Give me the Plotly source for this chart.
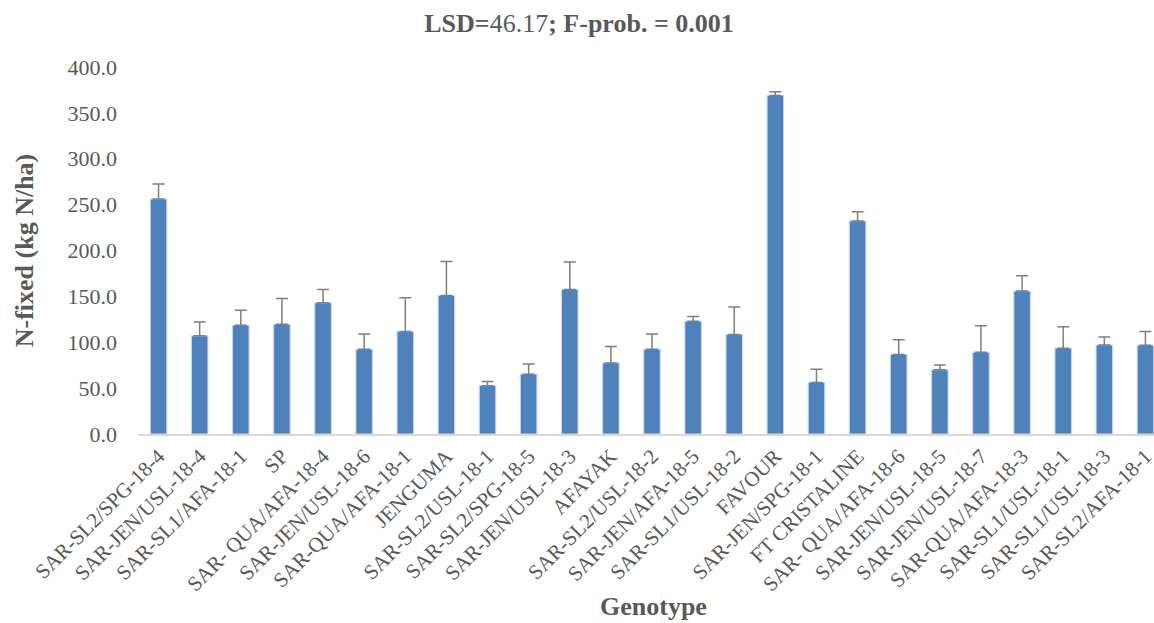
import plotly.graph_objects as go

genotypes = [
    "SAR-SL2/SPG-18-4", "SAR-JEN/USL-18-4", "SAR-SL1/AFA-18-1", "SP",
    "SAR- QUA/AFA-18-4", "SAR-JEN/USL-18-6", "SAR-QUA/AFA-18-1", "JENGUMA",
    "SAR-SL2/USL-18-1", "SAR-SL2/SPG-18-5", "SAR-JEN/USL-18-3", "AFAYAK",
    "SAR-SL2/USL-18-2", "SAR-JEN/AFA-18-5", "SAR-SL1/USL-18-2", "FAVOUR",
    "SAR-JEN/SPG-18-1", "FT CRISTALINE", "SAR- QUA/AFA-18-6", "SAR-JEN/USL-18-5",
    "SAR-JEN/USL-18-7", "SAR-QUA/AFA-18-3", "SAR-SL1/USL-18-1", "SAR-SL1/USL-18-3",
    "SAR-SL2/AFA-18-1",
]
n_fixed = [256.0, 107.0, 118.5, 119.6, 143.0, 92.4, 111.6, 151.0,
           52.7, 65.2, 157.6, 77.5, 92.4, 122.8, 108.4, 369.0,
           56.2, 232.2, 86.6, 69.9, 89.1, 155.8, 93.5, 97.0, 96.7]
std_err = [16.5, 15.0, 16.5, 28.0, 14.5, 16.6, 37.0, 37.0,
           4.6, 11.0, 30.0, 18.0, 16.6, 5.4, 30.0, 4.0,
           14.4, 10.0, 16.0, 5.4, 29.0, 16.7, 23.5, 8.8, 15.0]
y_ticks = [0, 50, 100, 150, 200, 250, 300, 350, 400]

serif = "Liberation Serif"
grey = "#595959"

W, H = 1154, 623
L, T = 138, 67
B = H - 434

fig = go.Figure(
    go.Bar(
        x=list(range(len(genotypes))),
        y=n_fixed,
        width=0.4,
        marker=dict(color="#4F81BD", line=dict(color="#c6d6eb", width=1)),
        error_y=dict(type="data", array=std_err, symmetric=False,
                     arrayminus=[0] * len(std_err),
                     color="#7f7f7f", thickness=1.5, width=6),
    )
)

plot_h = H - T - B
fig.update_layout(
    width=W, height=H,
    margin=dict(l=L, r=0, t=T, b=B, autoexpand=False),
    plot_bgcolor="white", paper_bgcolor="white",
    showlegend=False,
    title=dict(text="<b>LSD=</b>46.17<b>; F-prob. = 0.001</b>",
               x=579 / W, xanchor="center", y=1 - 23 / H, yanchor="middle",
               font=dict(family=serif, size=26, color=grey)),
    font=dict(family=serif, color=grey),
    annotations=[dict(
        text="<b>Genotype</b>", xref="paper", yref="paper",
        x=(653 - L) / (W - L), y=-(606 - 434) / plot_h,
        xanchor="center", yanchor="middle", showarrow=False,
        font=dict(family=serif, size=26, color=grey),
    )],
)

fig.update_xaxes(
    automargin=False,
    tickmode="array",
    tickvals=list(range(len(genotypes))),
    ticktext=genotypes,
    tickangle=-45,
    tickfont=dict(family=serif, size=21, color=grey),
    ticklabeloverflow="allow",
    range=[-0.5, 24.5 - (1166 - 1154) / 41.1],
    showline=True, linecolor="#d9d9d9", linewidth=1.5,
    showgrid=False, zeroline=False, ticks="",
)

fig.update_yaxes(
    automargin=False,
    range=[0, 400],
    tickmode="array",
    tickvals=y_ticks,
    ticktext=[f"{v:.1f}" for v in y_ticks],
    tickfont=dict(family=serif, size=22, color=grey),
    showgrid=False, zeroline=False, showline=False, ticks="",
    ticklabelstandoff=20,
    title=dict(text="<b>N-fixed (kg N/ha)</b>", font=dict(family=serif, size=26, color=grey),
               standoff=26),
)

fig.write_html(
    "out.html",
    config={"displayModeBar": False},
    post_script="document.body.style.margin='0px';document.body.style.overflow='hidden';",
)
